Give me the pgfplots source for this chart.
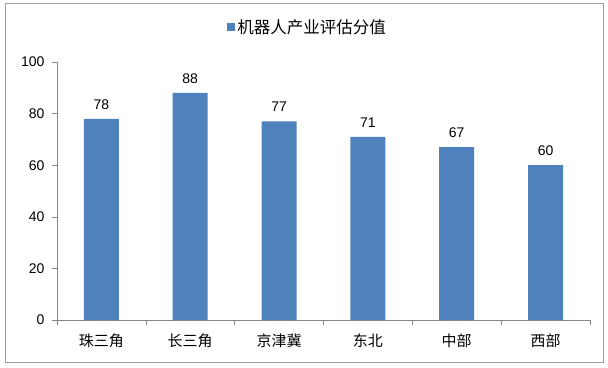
\documentclass[border=0pt]{standalone}
\usepackage{pgfplots}
\pgfplotsset{compat=1.18}
\usepackage{fontspec}
\setmainfont{Liberation Sans}
\newfontfamily\cjk{Noto Sans CJK SC}
\definecolor{barblue}{HTML}{4F81BD}
\definecolor{axgray}{HTML}{868686}
\begin{document}
\begin{tikzpicture}
\useasboundingbox (-57pt,-47pt) rectangle (551pt,320pt);
\draw[axgray!80, line width=0.8pt] (-52pt,-42pt) rectangle (546pt,317pt);
\begin{axis}[
  scale only axis,
  width=533pt, height=258pt,
  xmin=-0.5, xmax=5.5, ymin=0, ymax=100,
  axis lines*=left,
  axis line style={axgray, line width=0.6pt},
  xtick={0,1,2,3,4,5},
  xticklabels={珠三角,长三角,京津冀,东北,中部,西部},
  xticklabel style={font=\cjk\fontsize{15}{15}\selectfont, yshift=-5pt},
  minor xtick={-0.5,0.5,1.5,2.5,3.5,4.5,5.5},
  ytick={0,20,40,60,80,100},
  yticklabel style={font=\fontsize{14}{14}\selectfont, xshift=-4pt},
  /pgf/number format/assume math mode=true,
  major x tick style={draw=none},
  minor x tick style={axgray, line width=0.6pt},
  y tick style={axgray, line width=0.6pt},
  tick align=outside,
  major tick length=5pt, minor tick length=5pt,
  ybar, bar width=35pt,
  nodes near coords,
  nodes near coords style={font=\fontsize{14}{14}\selectfont, text=black, yshift=6pt},
  legend style={at={(axis description cs:0.47,1)}, anchor=center, yshift=35pt, draw=none, fill=none,
    font=\cjk\fontsize{16.5}{17}\selectfont, inner sep=0pt},
  legend image code/.code={\fill[barblue] (0pt,-4pt) rectangle (8pt,4pt);},
  legend cell align=left,
]
\addplot[fill=barblue, draw=none] coordinates {(0,78) (1,88) (2,77) (3,71) (4,67) (5,60)};
\legend{机器人产业评估分值}
\end{axis}
\end{tikzpicture}
\end{document}
